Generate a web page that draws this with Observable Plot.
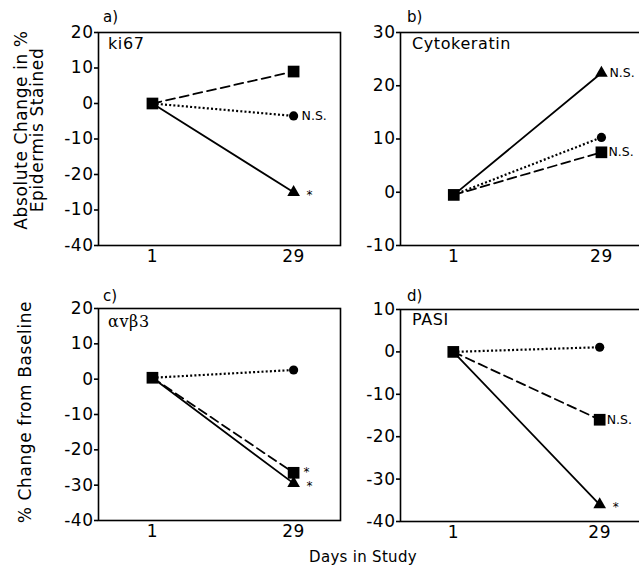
<!DOCTYPE html>
<html>
<head>
<meta charset="utf-8">
<script src="https://cdn.jsdelivr.net/npm/d3@7"></script>
<script src="https://cdn.jsdelivr.net/npm/@observablehq/plot@0.6"></script>
<style>
  html, body { margin: 0; padding: 0; background: #fff; }
  #wrap { position: relative; width: 639px; height: 572px; overflow: hidden; background: #fff; font-family: "DejaVu Sans", sans-serif; color: #000; }
  .pnl { position: absolute; }
  .lbl { position: absolute; white-space: nowrap; font-family: "DejaVu Sans", sans-serif; color: #000; }
  .rot { transform-origin: center center; transform: translate(-50%, -50%) rotate(-90deg); text-align: center; }
</style>
</head>
<body>
<div id="wrap"></div>
<script>
// ---- data ----
const days = [1, 29];
const panelNames = ["ki67", "Cytokeratin", "αvβ3", "PASI"];
const panelLetters = ["a)", "b)", "c)", "d)"];
const day1Values = [0, -0.5, 0.4, 0];
const squareDay29 = [9, 7.5, -26.5, -16];
const circleDay29 = [-3.5, 10.3, 2.6, 1.1];
const triangleDay29 = [-25, 22.4, -29.5, -36];
const squareNotes = ["", "N.S.", "*", "N.S."];
const circleNotes = ["N.S.", "", "", ""];
const triangleNotes = ["*", "N.S.", "*", "*"];
const yTicksA = [20, 10, 0, -10, -20, -30, -40];
const yTickLabelsA = ["20", "10", "0", "-10", "-20", "-10", "-40"];
const yTicksB = [30, 20, 10, 0, -10];
const yTickLabelsB = ["30", "20", "10", "0", "-10"];
const yTicksC = [20, 10, 0, -10, -20, -30, -40];
const yTickLabelsC = ["20", "10", "0", "-10", "-20", "-30", "-40"];
const yTicksD = [10, 0, -10, -20, -30, -40];
const yTickLabelsD = ["10", "0", "-10", "-20", "-30", "-40"];
const yTitleTop = ["Absolute Change in %", "Epidermis Stained"];
const yTitleBottom = "% Change from Baseline";
const xTitle = "Days in Study";

// ---- layout ----
const layouts = [
  {left: 0, top: 0, width: 345, height: 290, ml: 98, mr: 5, mt: 32, mb: 45, xd: [-9.7, 38.3], yd: [-40, 20], ticks: yTicksA, labels: yTickLabelsA},
  {left: 345, top: 0, width: 296, height: 290, ml: 55, mr: 0, mt: 32, mb: 45, xd: [-9.1, 36.6], yd: [-10, 30], ticks: yTicksB, labels: yTickLabelsB},
  {left: 0, top: 280, width: 345, height: 292, ml: 98, mr: 5, mt: 28, mb: 52, xd: [-9.7, 38.3], yd: [-40, 20], ticks: yTicksC, labels: yTickLabelsC},
  {left: 345, top: 280, width: 296, height: 292, ml: 55, mr: 0, mt: 29, mb: 51, xd: [-9.1, 37.0], yd: [-40, 10], ticks: yTicksD, labels: yTickLabelsD}
];

const wrap = document.getElementById("wrap");

function seriesRows(i) {
  const rows = [];
  const defs = [
    {name: "square", v: squareDay29, note: squareNotes},
    {name: "circle", v: circleDay29, note: circleNotes},
    {name: "triangle", v: triangleDay29, note: triangleNotes}
  ];
  for (const d of defs) {
    rows.push({series: d.name, day: days[0], value: day1Values[i], note: ""});
    rows.push({series: d.name, day: days[1], value: d.v[i], note: d.note[i]});
  }
  return rows;
}

panelNames.forEach((name, i) => {
  const L = layouts[i];
  const rows = seriesRows(i);
  const lab = new Map(L.ticks.map((t, j) => [t, L.labels[j]]));
  const sq = rows.filter(r => r.series === "square");
  const ci = rows.filter(r => r.series === "circle");
  const tr = rows.filter(r => r.series === "triangle");
  const starFor = (arr, dx, dy) => Plot.text(arr.filter(r => r.note === "*"), {x: "day", y: "value", text: "note", dx, dy, textAnchor: "start", fill: "#000", fontSize: 12});
  const nsFor = (arr, dx) => Plot.text(arr.filter(r => r.note === "N.S."), {x: "day", y: "value", text: "note", dx, textAnchor: "start", fill: "#000", fontSize: 12.5});
  const chart = Plot.plot({
    width: L.width, height: L.height,
    marginLeft: L.ml, marginRight: L.mr, marginTop: L.mt, marginBottom: L.mb,
    style: {fontFamily: "DejaVu Sans, sans-serif", fontSize: "17px", color: "black", background: "transparent", overflow: "visible"},
    x: {domain: L.xd},
    y: {domain: L.yd},
    marks: [
      Plot.frame({stroke: "black", strokeWidth: 1.6}),
      Plot.axisY({ticks: L.ticks, tickFormat: d => lab.get(d), tickSize: 4, tickPadding: 1, strokeWidth: 1.6, fontSize: 17, label: null, fill: "black"}),
      Plot.axisX({ticks: days, tickFormat: d => String(d), tickSize: 0, tickPadding: 4, fontSize: 17, label: null, fill: "black"}),
      Plot.line(ci, {x: "day", y: "value", stroke: "black", strokeWidth: 2.2, strokeDasharray: "2,2.2", strokeLinecap: "butt"}),
      Plot.line(sq, {x: "day", y: "value", stroke: "black", strokeWidth: 1.8, strokeDasharray: "9,5"}),
      Plot.line(tr, {x: "day", y: "value", stroke: "black", strokeWidth: 1.8}),
      Plot.dot(ci.filter(r => r.day === days[1]), {x: "day", y: "value", r: 4.6, fill: "black", stroke: "none"}),
      Plot.dot(tr.filter(r => r.day === days[1]), {x: "day", y: "value", symbol: "triangle", r: 4.7, fill: "black", stroke: "none"}),
      Plot.dot(sq, {x: "day", y: "value", symbol: "square", r: 6.6, fill: "black", stroke: "none"}),
      nsFor(sq, 7),
      nsFor(ci, 8),
      nsFor(tr, 8),
      starFor(sq, 10, i === 2 ? -1 : 3),
      starFor(tr, 13, 3)
    ]
  });
  chart.classList.add("pnl");
  chart.style.left = L.left + "px";
  chart.style.top = L.top + "px";
  chart.querySelectorAll("g[aria-label='y-axis tick label'] text, g[aria-label='x-axis tick label'] text").forEach(t => t.setAttribute("letter-spacing", "0.5"));
  wrap.appendChild(chart);
});

// panel letters and inner labels
const letterPos = [[103, 23], [407, 23], [103, 302], [407, 302]];
const namePos = [[108, 50], [412, 50], [108, 328], [412, 326]];
function addText(str, x, baseline, size, extra) {
  const d = document.createElement("div");
  d.className = "lbl";
  d.textContent = str;
  d.style.fontSize = size + "px";
  d.style.left = x + "px";
  d.style.top = (baseline - size * 0.846) + "px";
  d.style.lineHeight = size + "px";
  if (extra) Object.assign(d.style, extra);
  wrap.appendChild(d);
  return d;
}
panelLetters.forEach((s, i) => addText(s, letterPos[i][0], letterPos[i][1], 15));
panelNames.forEach((s, i) => addText(s, namePos[i][0], namePos[i][1], 16, {letterSpacing: "0.6px", fontFamily: i === 2 ? "'DejaVu Serif', serif" : "'DejaVu Sans', sans-serif"}));

// rotated y titles
function addRot(lines, cx, cy, size) {
  const d = document.createElement("div");
  d.className = "lbl rot";
  d.style.fontSize = size + "px";
  d.style.lineHeight = (size - 1) + "px";
  d.style.left = cx + "px";
  d.style.top = cy + "px";
  d.style.letterSpacing = "0.6px";
  d.innerHTML = lines.map(l => l.replace(/&/g, "&amp;")).join("<br>");
  wrap.appendChild(d);
}
addRot(yTitleTop, 29, 130, 17);
addRot([yTitleBottom], 25, 412, 17);

// x title
addText(xTitle, 363, 563, 15, {transform: "translateX(-50%)", letterSpacing: "0.3px"});
</script>
</body>
</html>
